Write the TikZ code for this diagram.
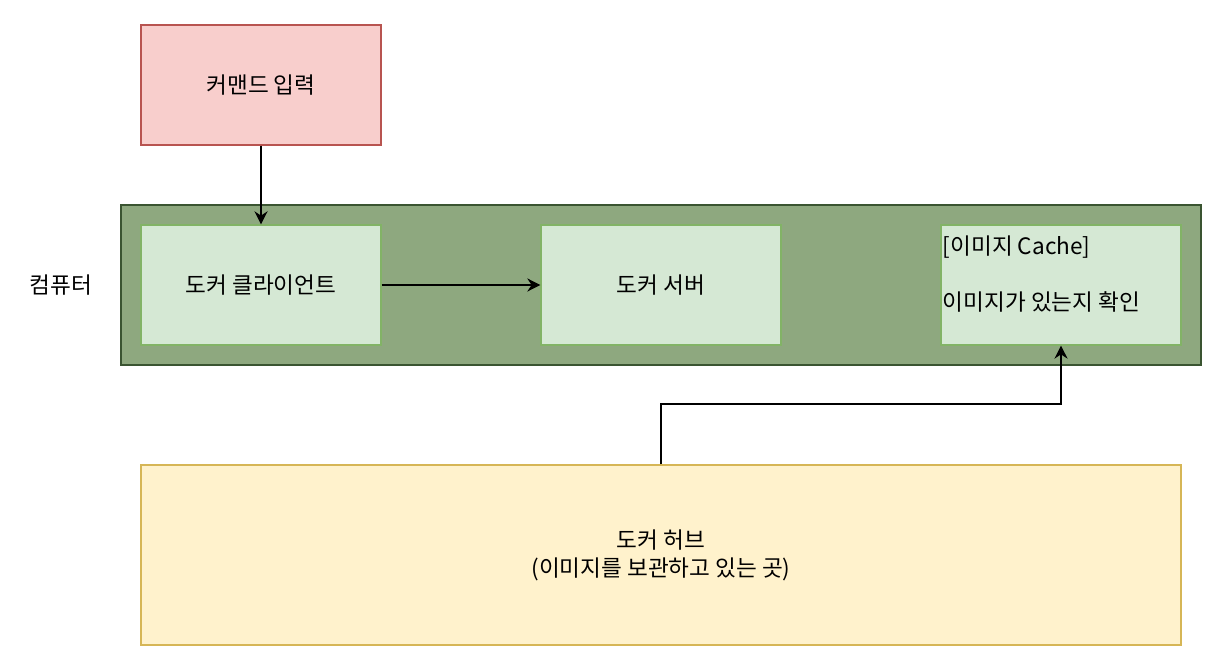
\documentclass[tikz,border=0pt]{standalone}
\usepackage{fontspec}
\setmainfont{Noto Sans CJK KR}
\usetikzlibrary{arrows.meta,positioning}

\definecolor{cmdfill}{HTML}{F8CECC}
\definecolor{cmdline}{HTML}{B85450}
\definecolor{pcfill}{HTML}{8EA87F}
\definecolor{pcline}{HTML}{3A5431}
\definecolor{boxfill}{HTML}{D5E8D4}
\definecolor{boxline}{HTML}{82B366}
\definecolor{hubfill}{HTML}{FFF2CC}
\definecolor{hubline}{HTML}{D6B656}

\begin{document}
\begin{tikzpicture}[x=0.5pt,y=-0.5pt,
  every node/.style={font=\fontsize{11.3}{14}\selectfont},
  box/.style={draw=boxline,fill=boxfill,line width=0.6pt,minimum width=120pt,minimum height=60pt,inner sep=0pt},
  flow/.style={line width=1pt,-{Stealth[length=6.5pt,width=6.5pt]}}]
\useasboundingbox (0,0) rectangle (1224,662);
\node[draw=cmdline,fill=cmdfill,line width=0.75pt,minimum width=120pt,minimum height=60pt] (cmd) at (261,85) {커맨드 입력};
\node[draw=pcline,fill=pcfill,line width=0.75pt,minimum width=540pt,minimum height=80pt] (pc) at (661,285) {};
\node (pclabel) at (61,285) {컴퓨터};
\node[box] (client) at (261,285) {도커 클라이언트};
\node[box] (server) at (661,285) {도커 서버};
\node[box] (cache) at (1061,285) {};
\node[anchor=north west,align=left,inner sep=0pt] (cachetext) at ([shift={(2,11)}]cache.north west) {[이미지 Cache]\\[14pt]이미지가 있는지 확인};
\node[draw=hubline,fill=hubfill,line width=0.75pt,minimum width=520pt,minimum height=90pt,align=center] (hub) at (661,555) {도커 허브\\(이미지를 보관하고 있는 곳)};
\draw[flow] (cmd.south) -- (client.north);
\draw[flow] (client.east) -- (server.west);
\draw[flow] (hub.north) -- ++(0,-60) -| (cache.south);
\end{tikzpicture}
\end{document}
